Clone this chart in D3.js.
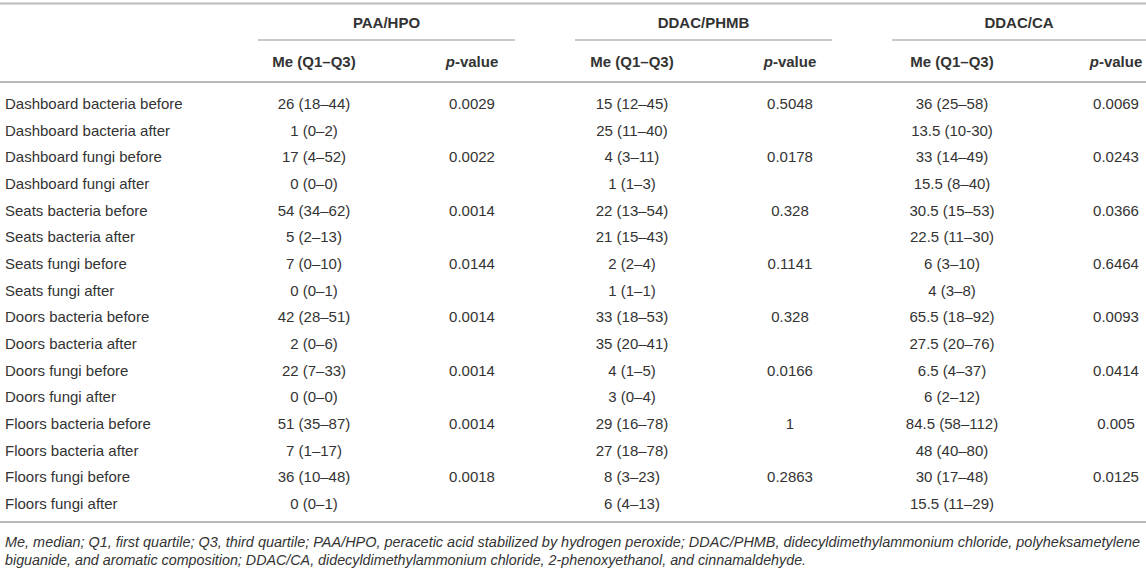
<!DOCTYPE html>
<html>
<head>
<meta charset="utf-8">
<script src="https://cdn.jsdelivr.net/npm/d3@7"></script>
<style>
  body { margin: 0; background: #fff; }
  svg { display: block; font-family: "Liberation Sans", Arial, Helvetica, sans-serif; }
</style>
</head>
<body>
<script>
// Tableau : médiane (Q1–Q3) et p-value par désinfectant
var groups = ["PAA/HPO", "DDAC/PHMB", "DDAC/CA"];
var rowLabels = [
  "Dashboard bacteria before", "Dashboard bacteria after",
  "Dashboard fungi before", "Dashboard fungi after",
  "Seats bacteria before", "Seats bacteria after",
  "Seats fungi before", "Seats fungi after",
  "Doors bacteria before", "Doors bacteria after",
  "Doors fungi before", "Doors fungi after",
  "Floors bacteria before", "Floors bacteria after",
  "Floors fungi before", "Floors fungi after"
];
var paaMe = ["26 (18–44)", "1 (0–2)", "17 (4–52)", "0 (0–0)", "54 (34–62)", "5 (2–13)", "7 (0–10)", "0 (0–1)",
  "42 (28–51)", "2 (0–6)", "22 (7–33)", "0 (0–0)", "51 (35–87)", "7 (1–17)", "36 (10–48)", "0 (0–1)"];
var paaP = ["0.0029", "", "0.0022", "", "0.0014", "", "0.0144", "", "0.0014", "", "0.0014", "", "0.0014", "", "0.0018", ""];
var phmbMe = ["15 (12–45)", "25 (11–40)", "4 (3–11)", "1 (1–3)", "22 (13–54)", "21 (15–43)", "2 (2–4)", "1 (1–1)",
  "33 (18–53)", "35 (20–41)", "4 (1–5)", "3 (0–4)", "29 (16–78)", "27 (18–78)", "8 (3–23)", "6 (4–13)"];
var phmbP = ["0.5048", "", "0.0178", "", "0.328", "", "0.1141", "", "0.328", "", "0.0166", "", "1", "", "0.2863", ""];
var caMe = ["36 (25–58)", "13.5 (10-30)", "33 (14–49)", "15.5 (8–40)", "30.5 (15–53)", "22.5 (11–30)", "6 (3–10)", "4 (3–8)",
  "65.5 (18–92)", "27.5 (20–76)", "6.5 (4–37)", "6 (2–12)", "84.5 (58–112)", "48 (40–80)", "30 (17–48)", "15.5 (11–29)"];
var caP = ["0.0069", "", "0.0243", "", "0.0366", "", "0.6464", "", "0.0093", "", "0.0414", "", "0.005", "", "0.0125", ""];
var footnote = [
  "Me, median; Q1, first quartile; Q3, third quartile; PAA/HPO, peracetic acid stabilized by hydrogen peroxide; DDAC/PHMB, didecyldimethylammonium chloride, polyheksametylene",
  "biguanide, and aromatic composition; DDAC/CA, didecyldimethylammonium chloride, 2-phenoxyethanol, and cinnamaldehyde."
];

var larg = 1146, haut = 570;
var txt = "#333", lineCol = "#b9b9b9";
var fs = "15px";

// colonnes : [valeurs, centre x]
var cols = [
  {vals: paaMe, x: 314}, {vals: paaP, x: 472},
  {vals: phmbMe, x: 632}, {vals: phmbP, x: 790},
  {vals: caMe, x: 952}, {vals: caP, x: 1116}
];
var groupSpan = [[258, 515], [575, 832], [892, 1146]];

var y = d3.scalePoint().domain(rowLabels).range([104, 504]);

var svg = d3.select("body").append("svg")
  .attr("width", larg).attr("height", haut);

// lignes horizontales
[3.5, 82, 522].forEach(function(yy) {
  svg.append("line").attr("x1", 0).attr("x2", larg).attr("y1", yy).attr("y2", yy)
    .attr("stroke", lineCol).attr("stroke-width", 2);
});

svg.selectAll("line.grp")
  .data(groupSpan)
  .enter().append("line")
  .attr("class", "grp")
  .attr("x1", function(d) { return d[0]; })
  .attr("x2", function(d) { return d[1]; })
  .attr("y1", 40).attr("y2", 40)
  .attr("stroke", lineCol).attr("stroke-width", 1.5);

// titres de groupe
svg.selectAll("text.grp")
  .data(groups)
  .enter().append("text")
  .attr("class", "grp")
  .text(function(d) { return d; })
  .attr("x", function(d, i) { return (groupSpan[i][0] + groupSpan[i][1]) / 2; })
  .attr("y", 28)
  .attr("text-anchor", "middle")
  .attr("font-size", fs).attr("font-weight", "bold").attr("fill", txt);

// en-têtes de colonnes
cols.forEach(function(c, i) {
  var t = svg.append("text")
    .attr("x", c.x).attr("y", 67)
    .attr("text-anchor", "middle")
    .attr("font-size", fs).attr("font-weight", "bold").attr("fill", txt);
  if (i % 2 === 0) {
    t.text("Me (Q1–Q3)");
  } else {
    t.append("tspan").attr("font-style", "italic").text("p");
    t.append("tspan").text("-value");
  }
});

// libellés des lignes
svg.selectAll("text.lbl")
  .data(rowLabels)
  .enter().append("text")
  .attr("class", "lbl")
  .text(function(d) { return d; })
  .attr("x", 5)
  .attr("y", function(d) { return y(d) + 5; })
  .attr("font-size", fs).attr("fill", txt);

// cellules
cols.forEach(function(c) {
  svg.append("g").selectAll("text")
    .data(c.vals)
    .enter().append("text")
    .text(function(d) { return d; })
    .attr("x", c.x)
    .attr("y", function(d, i) { return y(rowLabels[i]) + 5; })
    .attr("text-anchor", "middle")
    .attr("font-size", fs).attr("fill", txt);
});

// note de bas de tableau
svg.selectAll("text.note")
  .data(footnote)
  .enter().append("text")
  .attr("class", "note")
  .text(function(d) { return d; })
  .attr("x", 5)
  .attr("y", function(d, i) { return 547 + i * 18; })
  .attr("textLength", function(d, i) { return i === 0 ? 1135 : null; })
  .attr("lengthAdjust", "spacingAndGlyphs")
  .attr("font-size", "14.3px").attr("font-style", "italic").attr("fill", txt);
</script>
</body>
</html>
